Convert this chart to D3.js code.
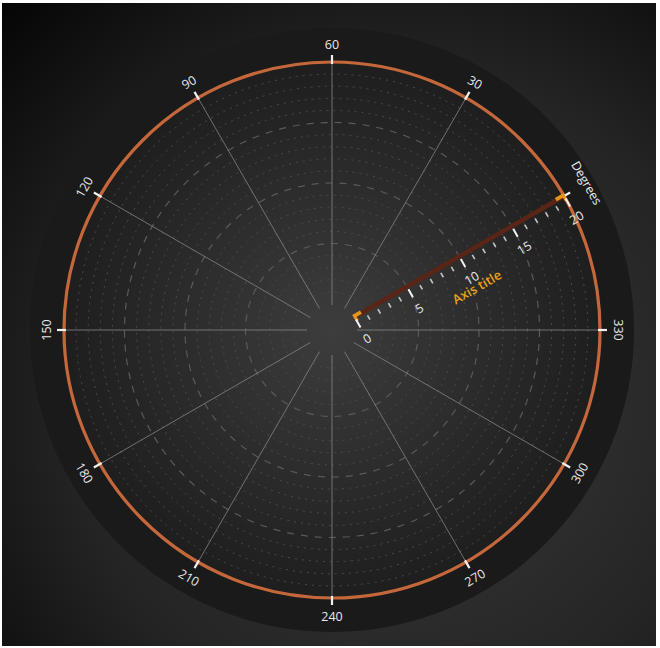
<!DOCTYPE html>
<html><head><meta charset="utf-8">
<script src="https://cdn.jsdelivr.net/npm/d3@7"></script>
<style>html,body{margin:0;padding:0;background:#fff;}svg{display:block;}</style>
</head><body>
<svg id="chart" width="660" height="648"></svg>
<script>
// ---- data ----
const angleTicks = [0, 30, 60, 90, 120, 150, 180, 210, 240, 270, 300, 330];
const angleLabels = ["", "30", "60", "90", "120", "150", "180", "210", "240", "270", "300", "330"];
const radialMajorTicks = [0, 5, 10, 15, 20];
const radialMinorTicks = [1,2,3,4,6,7,8,9,11,12,13,14,16,17,18,19];
const radialDomain = [0, 20];
const angleDomain = [0, 360];
const radialAxisTitle = "Axis title";
const angularAxisTitle = "Degrees";
const radialAxisAngle = 0;

const W = 660, H = 648, cx = 332, cy = 330;
const svg = d3.select("#chart");
const defs = svg.append("defs");

const bg = defs.append("radialGradient").attr("id","bg").attr("gradientUnits","userSpaceOnUse")
  .attr("cx",400).attr("cy",400).attr("r",600);
bg.append("stop").attr("offset","0").attr("stop-color","#3a3a3a");
bg.append("stop").attr("offset","0.55").attr("stop-color","#242424");
bg.append("stop").attr("offset","1").attr("stop-color","#000");

const plotG = defs.append("radialGradient").attr("id","plot").attr("gradientUnits","userSpaceOnUse")
  .attr("cx",cx).attr("cy",cy).attr("r",268);
plotG.append("stop").attr("offset","0").attr("stop-color","#3d3d3d");
plotG.append("stop").attr("offset","1").attr("stop-color","#1e1e1e");

svg.append("rect").attr("x",2).attr("y",3).attr("width",654).attr("height",643).attr("fill","url(#bg)");

const r = d3.scaleLinear().domain(radialDomain).range([26, 268]);
const ang = d3.scaleLinear().domain(angleDomain).range([30, 390]); // screen degrees, CCW from right
const rad = d => d * Math.PI / 180;
const px = (v, rr) => cx + rr * Math.cos(rad(ang(v)));
const py = (v, rr) => cy - rr * Math.sin(rad(ang(v)));

const R_OUT = 302;
svg.append("circle").attr("cx",cx).attr("cy",cy).attr("r",R_OUT).attr("fill","#1a1a1a");
svg.append("circle").attr("cx",cx).attr("cy",cy).attr("r",r(20)).attr("fill","url(#plot)");

// minor circles
svg.append("g").selectAll("circle").data(radialMinorTicks).join("circle")
  .attr("cx",cx).attr("cy",cy).attr("r",d=>r(d)).attr("fill","none")
  .attr("stroke","#4b4b4b").attr("stroke-width",1).attr("stroke-dasharray","2,5");
// major circles
svg.append("g").selectAll("circle").data(radialMajorTicks.filter(d=>d>0 && d<20)).join("circle")
  .attr("cx",cx).attr("cy",cy).attr("r",d=>r(d)).attr("fill","none")
  .attr("stroke","#5a5a5a").attr("stroke-width",1.2).attr("stroke-dasharray","7,7");

// spokes
svg.append("g").selectAll("line").data(angleTicks).join("line")
  .attr("x1",d=>px(d,r(0)-1)).attr("y1",d=>py(d,r(0)-1))
  .attr("x2",d=>px(d,r(20))).attr("y2",d=>py(d,r(20)))
  .attr("stroke","#858585").attr("stroke-width",1).attr("opacity",0.8);

// outer orange circle
svg.append("circle").attr("cx",cx).attr("cy",cy).attr("r",r(20)).attr("fill","none")
  .attr("stroke","#c4683c").attr("stroke-width",3.2);

// angular ticks
svg.append("g").selectAll("line").data(angleTicks).join("line")
  .attr("x1",d=>px(d,r(20)-2)).attr("y1",d=>py(d,r(20)-2))
  .attr("x2",d=>px(d,r(20)+7)).attr("y2",d=>py(d,r(20)+7))
  .attr("stroke","#f0f0f0").attr("stroke-width",2.2);

// angular labels
const labR = 286;
svg.append("g").selectAll("text").data(angleTicks).join("text")
  .attr("transform", d => {
    const a = ang(d) % 360;
    let rot = 90 - a;
    if (a > 180 && a < 360) rot += 180;
    return `translate(${px(d,labR)},${py(d,labR)}) rotate(${rot})`;
  })
  .attr("text-anchor","middle").attr("dominant-baseline","central")
  .attr("font-family","'Open Sans', 'Noto Sans', sans-serif").attr("font-size",12.5)
  .attr("fill","#e8e8e8")
  .text((d,i)=>angleLabels[i]);

// angular axis title
svg.append("text")
  .attr("transform", `translate(${px(radialAxisAngle,294)},${py(radialAxisAngle,294)}) rotate(${90-ang(radialAxisAngle)})`)
  .attr("text-anchor","middle").attr("dominant-baseline","central")
  .attr("font-family","'Open Sans', 'Noto Sans', sans-serif").attr("font-size",12.5)
  .attr("fill","#e8e8e8").text(angularAxisTitle);

// radial axis
const aRot = -ang(radialAxisAngle);
const ax = svg.append("g").attr("transform", `translate(${cx},${cy}) rotate(${aRot})`);
ax.append("line").attr("x1",r(0)).attr("y1",0).attr("x2",r(20)).attr("y2",0)
  .attr("stroke","#5a2516").attr("stroke-width",4.5);
// end markers
[0,20].forEach(v=>{
  ax.append("path")
    .attr("d", v===0
      ? `M${r(v)-1},5 L${r(v)-1},-3 L${r(v)+8},-3 L${r(v)+8},1 L${r(v)+2},1 L${r(v)+2},5 Z`
      : `M${r(v)-9},-3 L${r(v)+1},-3 L${r(v)+1},5 L${r(v)-2},5 L${r(v)-2},1 L${r(v)-9},1 Z`)
    .attr("fill","#e4931c");
});
// minor ticks
ax.append("g").selectAll("line").data(radialMinorTicks).join("line")
  .attr("x1",d=>r(d)).attr("x2",d=>r(d)).attr("y1",5).attr("y2",10)
  .attr("stroke","#c4c4c4").attr("stroke-width",1.6);
ax.append("g").selectAll("line").data(radialMajorTicks).join("line")
  .attr("x1",d=>r(d)).attr("x2",d=>r(d)).attr("y1",3).attr("y2",12)
  .attr("stroke","#f2f2f2").attr("stroke-width",2);
ax.append("g").selectAll("text").data(radialMajorTicks).join("text")
  .attr("x",d=>r(d)).attr("y",25)
  .attr("text-anchor","middle").attr("dominant-baseline","central")
  .attr("font-family","'Open Sans', 'Noto Sans', sans-serif").attr("font-size",12.5)
  .attr("fill","#e8e8e8").text(d=>d);
ax.append("text").attr("x",(r(0)+r(20))/2).attr("y",35)
  .attr("text-anchor","middle").attr("dominant-baseline","central")
  .attr("font-family","'Open Sans', 'Noto Sans', sans-serif").attr("font-size",13).attr("font-weight",600)
  .attr("fill","#e6a01c").text(radialAxisTitle);
</script>
</body></html>
